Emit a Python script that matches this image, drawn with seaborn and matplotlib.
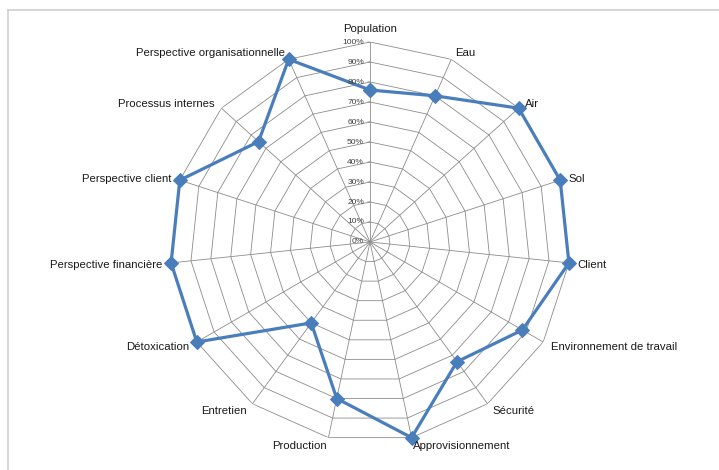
import numpy as np
import pandas as pd
import matplotlib.pyplot as plt
from matplotlib.lines import Line2D
import seaborn as sns

# Categories and scores (clockwise from top)
categories = ['Population', 'Eau', 'Air', 'Sol', 'Client', 'Environnement de travail',
              'Sécurité', 'Approvisionnement', 'Production', 'Entretien', 'Détoxication',
              'Perspective financière', 'Perspective client', 'Processus internes',
              'Perspective organisationnelle']
scores = [0.76, 0.80, 1.00, 1.00, 1.00, 0.88, 0.74, 1.00, 0.80, 0.50, 1.00,
          1.00, 1.00, 0.75, 1.00]
ring_levels = [0.1, 0.2, 0.3, 0.4, 0.5, 0.6, 0.7, 0.8, 0.9, 1.0]
ring_labels = ['0%', '10%', '20%', '30%', '40%', '50%', '60%', '70%', '80%', '90%', '100%']

sns.set_style("white")
plt.rcParams['font.family'] = ['Liberation Sans', 'DejaVu Sans']

n = len(categories)
angles = np.linspace(0, 2 * np.pi, n, endpoint=False)

# close the polygon with a point at 2*pi
df = pd.DataFrame({'theta': list(angles) + [2 * np.pi],
                   'score': scores + [scores[0]]})

fig = plt.figure(figsize=(7.19, 4.70), dpi=100)
ax = fig.add_axes([170 / 719, 28 / 470, 400 / 719, 400 / 470], projection='polar')
ax.set_theta_zero_location('N')
ax.set_theta_direction(-1)
ax.set_ylim(0, 1)
ax.grid(False)
ax.spines['polar'].set_visible(False)
ax.set_xticks([])
ax.set_yticks([])

grid_col = '#8c8c8c'
closed = list(angles) + [angles[0]]
for lev in ring_levels:
    ax.plot(closed, [lev] * (n + 1), color=grid_col, lw=0.6, zorder=1)
for a in angles:
    ax.plot([a, a], [0, 1], color=grid_col, lw=0.6, zorder=1)

sns.lineplot(data=df, x='theta', y='score', sort=False, estimator=None, ax=ax,
             color='#4a7ebb', lw=2.3, marker='D', markersize=7,
             markeredgecolor='#4a7ebb', zorder=3, clip_on=False)
ax.set_xlabel('')
ax.set_ylabel('')
ax.set_ylim(0, 1)

# percentage labels along the Population spoke
for i, lab in enumerate(ring_labels):
    ax.annotate(lab, xy=(0, i / 10), xytext=(-6, 0), textcoords='offset pixels',
                ha='right', va='center', fontsize=6, color='#404040')
    if i > 0:
        ax.annotate('', xy=(0, i / 10), xytext=(-5, 0), textcoords='offset pixels',
                    arrowprops=dict(arrowstyle='-', color=grid_col, lw=0.6))

# category labels outside the outer ring
for a, lab in zip(angles, categories):
    s, c = np.sin(a), np.cos(a)
    if abs(s) < 1e-6:
        ha, va, off = 'center', 'bottom', (0, 8)
    else:
        ha = 'left' if s > 0 else 'right'
        va = 'center'
        off = (9 * s, 8 * c - 1)
    ax.annotate(lab, xy=(a, 1.0), xytext=off, textcoords='offset pixels',
                ha=ha, va=va, fontsize=8.2, color='#1a1a1a')

# partial chart-area border as in the original screenshot
fig.add_artist(Line2D([8 / 719, 1], [1 - 10 / 470, 1 - 10 / 470],
                      transform=fig.transFigure, color='#d0d0d0', lw=1.2))
fig.add_artist(Line2D([8 / 719, 8 / 719], [0, 1 - 10 / 470],
                      transform=fig.transFigure, color='#d0d0d0', lw=1.2))

fig.savefig('out.png', dpi=100)
